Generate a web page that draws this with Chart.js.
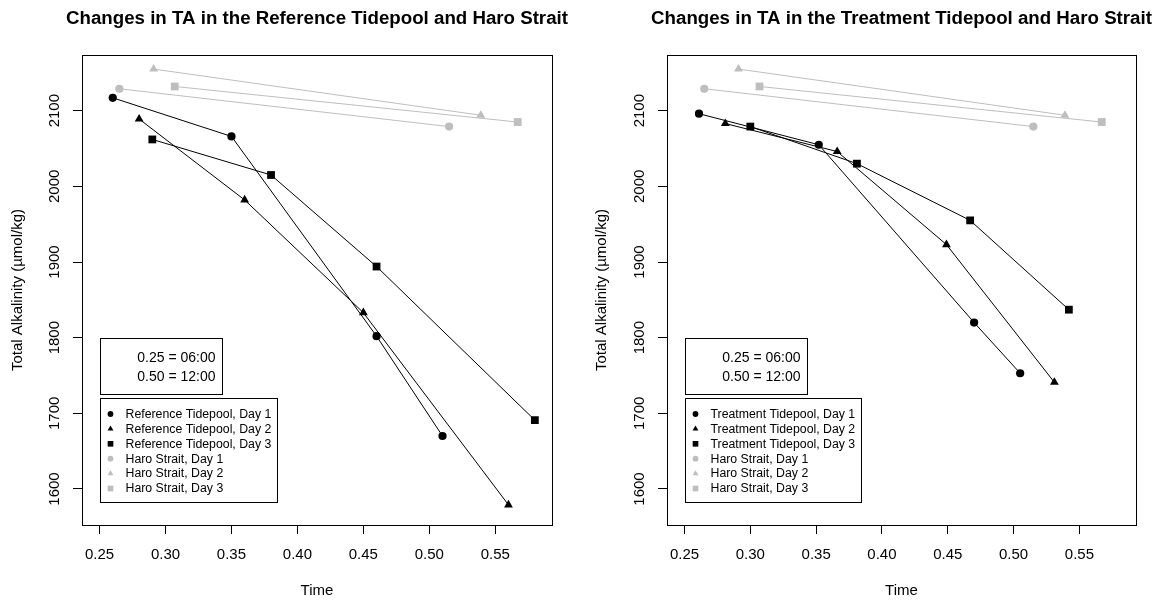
<!DOCTYPE html>
<html>
<head>
<meta charset="utf-8">
<script src="https://cdn.jsdelivr.net/npm/chart.js@4.4.0/dist/chart.umd.min.js"></script>
<style>
  html, body { margin: 0; padding: 0; background: #fff; }
  #wrap { display: flex; width: 1161px; height: 600px; }
  .panel { position: relative; height: 600px; }
</style>
</head>
<body>
<div id="wrap">
  <div class="panel" style="width:580px"><canvas id="refChart"></canvas></div>
  <div class="panel" style="width:581px"><canvas id="trtChart"></canvas></div>
</div>
<script>
// time of day (fraction of a day) and total alkalinity (umol/kg)
const refDay1Time = [0.26, 0.35, 0.46, 0.51];
const refDay1TA   = [2117, 2066, 1802, 1670];
const refDay2Time = [0.28, 0.36, 0.45, 0.56];
const refDay2TA   = [2089, 1982, 1833, 1579];
const refDay3Time = [0.29, 0.38, 0.46, 0.58];
const refDay3TA   = [2062, 2015, 1894, 1691];

const trtDay1Time = [0.261, 0.352, 0.470, 0.505];
const trtDay1TA   = [2096, 2055, 1820, 1753];
const trtDay2Time = [0.281, 0.366, 0.449, 0.531];
const trtDay2TA   = [2083, 2046, 1923, 1741];
const trtDay3Time = [0.300, 0.381, 0.467, 0.542];
const trtDay3TA   = [2079, 2030, 1955, 1837];

const haroDay1Time = [0.265, 0.515];
const haroDay1TA   = [2129, 2079];
const haroDay2Time = [0.291, 0.539];
const haroDay2TA   = [2155, 2094];
const haroDay3Time = [0.307, 0.567];
const haroDay3TA   = [2132, 2085];

const timeNote = ['0.25 = 06:00', '0.50 = 12:00'];

const FONT = '"Liberation Sans", Arial, Helvetica, sans-serif';
const BLACK = '#000000';
const GREY = '#bebebe';
const radii = { circle: 4.1, triangle: 5.1, rect: 5.5 };
const legendRadii = { circle: 2.9, triangle: 3.4, rect: 4.0 };

function series(label, times, values, color, style) {
  return {
    label: label,
    data: times.map((t, i) => ({ x: t, y: values[i] })),
    showLine: true,
    borderColor: color,
    borderWidth: 1,
    backgroundColor: color,
    pointBackgroundColor: color,
    pointBorderWidth: 0,
    pointStyle: style,
    pointRadius: radii[style],
    pointHoverRadius: radii[style]
  };
}

// frame, title, time note and legend drawn on top of the chart area
const framePlugin = {
  id: 'frame',
  afterDraw(chart, args, opts) {
    const ctx = chart.ctx;
    const a = chart.chartArea;
    const xs = chart.scales.x, ys = chart.scales.y;
    ctx.save();
    ctx.strokeStyle = BLACK;
    ctx.lineWidth = 1;
    ctx.strokeRect(Math.round(a.left) + 0.5, Math.round(a.top) + 0.5,
                   Math.round(a.right - a.left), Math.round(a.bottom - a.top));

    // title centred over the plot region
    ctx.fillStyle = BLACK;
    ctx.font = 'bold 18.7px ' + FONT;
    ctx.textAlign = 'center';
    ctx.textBaseline = 'middle';
    ctx.fillText(opts.title, (a.left + a.right) / 2, 19);

    // time note box
    const nx = Math.round(xs.getPixelForValue(0.25)) + 0.5;
    const ny = Math.round(ys.getPixelForValue(1800)) + 0.5;
    ctx.fillStyle = '#fff';
    ctx.fillRect(nx, ny, 122, 56);
    ctx.strokeRect(nx, ny, 122, 56);
    ctx.fillStyle = BLACK;
    ctx.font = '14px ' + FONT;
    ctx.textAlign = 'right';
    timeNote.forEach((t, i) => ctx.fillText(t, nx + 115, ny + 20 + i * 19));

    // series legend
    const lx = Math.round(xs.getPixelForValue(0.25)) + 0.5;
    const ly = Math.round(ys.getPixelForValue(1720)) + 0.5;
    ctx.font = '12.3px ' + FONT;
    const sets = chart.data.datasets.slice().sort((p, q) => p.order - q.order);
    let w = 0;
    sets.forEach(d => { w = Math.max(w, ctx.measureText(d.label).width); });
    const bw = Math.round(25 + w + 6);
    ctx.fillStyle = '#fff';
    ctx.fillRect(lx, ly, bw, 104);
    ctx.strokeRect(lx, ly, bw, 104);
    ctx.textAlign = 'left';
    sets.forEach((d, i) => {
      const yy = ly + 15.5 + i * 14.9;
      ctx.fillStyle = d.pointBackgroundColor;
      Chart.helpers.drawPoint(ctx, { pointStyle: d.pointStyle, radius: legendRadii[d.pointStyle], rotation: 0, borderWidth: 0 }, lx + 10, yy);
      ctx.fillStyle = BLACK;
      ctx.fillText(d.label, lx + 25, yy + 0.5);
    });
    ctx.restore();
  }
};

function makeChart(id, title, tideName, tide, yWidth, padLeft, padRight) {
  const datasets = [
    series(tideName + ' Tidepool, Day 1', tide[0][0], tide[0][1], BLACK, 'circle'),
    series(tideName + ' Tidepool, Day 2', tide[1][0], tide[1][1], BLACK, 'triangle'),
    series(tideName + ' Tidepool, Day 3', tide[2][0], tide[2][1], BLACK, 'rect'),
    series('Haro Strait, Day 1', haroDay1Time, haroDay1TA, GREY, 'circle'),
    series('Haro Strait, Day 2', haroDay2Time, haroDay2TA, GREY, 'triangle'),
    series('Haro Strait, Day 3', haroDay3Time, haroDay3TA, GREY, 'rect')
  ];
  datasets.forEach((d, i) => { d.order = i; });

  return new Chart(document.getElementById(id), {
    type: 'scatter',
    data: { datasets: datasets },
    plugins: [framePlugin],
    options: {
      responsive: true,
      maintainAspectRatio: false,
      devicePixelRatio: 1,
      animation: false,
      layout: { padding: { top: 55, left: padLeft, right: padRight, bottom: 0 } },
      plugins: {
        legend: { display: false },
        tooltip: { enabled: false },
        frame: { title: title }
      },
      scales: {
        x: {
          type: 'linear',
          min: 0.2367,
          max: 0.593,
          afterFit: s => { s.height = 75; },
          border: { display: false },
          grid: { drawOnChartArea: false, drawTicks: true, tickLength: 9, color: BLACK, lineWidth: 1 },
          ticks: {
            stepSize: 0.05, includeBounds: false, autoSkip: false, maxRotation: 0,
            padding: 12, color: BLACK, font: { family: FONT, size: 15 },
            callback: v => v.toFixed(2)
          },
          title: { display: true, text: 'Time', color: BLACK, font: { family: FONT, size: 15 }, padding: { top: 0, bottom: 0 } }
        },
        y: {
          type: 'linear',
          min: 1552.4,
          max: 2173.6,
          afterFit: s => { s.width = yWidth; },
          border: { display: false },
          grid: { drawOnChartArea: false, drawTicks: true, tickLength: 9, color: BLACK, lineWidth: 1 },
          ticks: {
            stepSize: 100, includeBounds: false, autoSkip: false,
            minRotation: 90, maxRotation: 90, crossAlign: 'center',
            padding: 1, color: BLACK, font: { family: FONT, size: 15 },
            callback: v => String(Math.round(v))
          },
          title: { display: true, text: 'Total Alkalinity (µmol/kg)', color: BLACK, font: { family: FONT, size: 15 }, padding: { top: 9, bottom: 0 } }
        }
      }
    }
  });
}

makeChart('refChart', 'Changes in TA in the Reference Tidepool and Haro Strait', 'Reference',
  [[refDay1Time, refDay1TA], [refDay2Time, refDay2TA], [refDay3Time, refDay3TA]], 82, 0, 28);
makeChart('trtChart', 'Changes in TA in the Treatment Tidepool and Haro Strait', 'Treatment',
  [[trtDay1Time, trtDay1TA], [trtDay2Time, trtDay2TA], [trtDay3Time, trtDay3TA]], 83, 4, 25);
</script>
</body>
</html>
